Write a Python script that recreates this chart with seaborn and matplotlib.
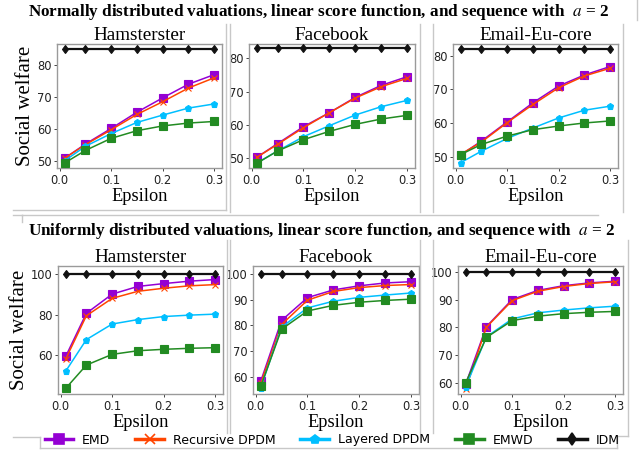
import numpy as np
import pandas as pd
import matplotlib
matplotlib.use("Agg")
import matplotlib.pyplot as plt
import seaborn as sns
from matplotlib.lines import Line2D

# ---------------- data ----------------
epsilon = [0.01, 0.05, 0.1, 0.15, 0.2, 0.25, 0.3]
methods = ["EMD", "Recursive DPDM", "Layered DPDM", "EMWD", "IDM"]
datasets = ["Hamsterster", "Facebook", "Email-Eu-core"]

# Normally distributed valuations
normal_ham_emd = [50.8, 55.2, 60.1, 65.2, 69.7, 74.0, 77.0]
normal_ham_rec = [50.8, 55.0, 59.7, 64.5, 68.5, 72.8, 76.0]
normal_ham_lay = [50.0, 54.5, 58.5, 62.0, 64.3, 66.5, 67.8]
normal_ham_emwd = [49.3, 53.2, 57.0, 59.4, 60.9, 61.8, 62.3]
normal_ham_idm = [85.0, 85.0, 85.0, 85.0, 85.0, 85.0, 85.0]

normal_fb_emd = [50.3, 54.4, 59.5, 63.7, 68.3, 71.9, 74.5]
normal_fb_rec = [50.3, 54.2, 59.2, 63.7, 68.1, 71.5, 74.0]
normal_fb_lay = [48.6, 52.2, 56.5, 59.8, 63.0, 65.5, 67.4]
normal_fb_emwd = [48.5, 52.2, 55.6, 58.1, 60.2, 61.8, 62.9]
normal_fb_idm = [83.0, 83.0, 83.0, 83.0, 83.0, 83.0, 83.0]

normal_em_emd = [50.5, 54.6, 60.3, 66.0, 71.0, 74.3, 76.8]
normal_em_rec = [50.7, 54.3, 60.1, 65.5, 70.5, 74.0, 76.3]
normal_em_lay = [48.2, 51.6, 55.4, 58.5, 61.5, 63.8, 65.0]
normal_em_emwd = [50.6, 53.6, 56.1, 58.0, 59.1, 60.0, 60.6]
normal_em_idm = [82.0, 82.0, 82.0, 82.0, 82.0, 82.0, 82.0]

# Uniformly distributed valuations
unif_ham_emd = [59.3, 80.6, 90.1, 93.9, 95.3, 96.5, 97.3]
unif_ham_rec = [58.0, 79.4, 88.0, 91.5, 93.0, 94.2, 94.8]
unif_ham_lay = [52.0, 67.6, 75.3, 77.5, 79.0, 79.7, 80.2]
unif_ham_emwd = [43.5, 55.0, 60.3, 62.1, 62.8, 63.3, 63.6]
unif_ham_idm = [100.0, 100.0, 100.0, 100.0, 100.0, 100.0, 100.0]

unif_fb_emd = [58.3, 81.9, 90.8, 93.8, 95.4, 96.5, 97.0]
unif_fb_rec = [57.5, 80.3, 89.8, 93.2, 94.7, 95.5, 95.9]
unif_fb_lay = [55.8, 79.3, 86.8, 89.4, 90.9, 91.8, 92.6]
unif_fb_emwd = [56.3, 78.5, 85.6, 87.8, 89.0, 89.7, 90.2]
unif_fb_idm = [100.0, 100.0, 100.0, 100.0, 100.0, 100.0, 100.0]

unif_em_emd = [59.5, 80.2, 90.0, 93.3, 95.0, 96.0, 96.6]
unif_em_rec = [57.8, 80.0, 89.6, 93.0, 94.7, 95.8, 96.4]
unif_em_lay = [58.5, 76.5, 83.0, 85.2, 86.2, 87.0, 87.6]
unif_em_emwd = [60.0, 76.3, 82.4, 84.0, 84.9, 85.4, 85.7]
unif_em_idm = [100.0, 100.0, 100.0, 100.0, 100.0, 100.0, 100.0]

group_titles = [
    r"Normally distributed valuations, linear score function, and sequence with  $a$ = 2",
    r"Uniformly distributed valuations, linear score function, and sequence with  $a$ = 2",
]
x_label = "Epsilon"
y_label = "Social welfare"
x_ticks = [0.0, 0.1, 0.2, 0.3]
y_ticks = [
    [[50, 60, 70, 80], [50, 60, 70, 80], [50, 60, 70, 80]],
    [[60, 80, 100], [60, 70, 80, 90, 100], [60, 70, 80, 90, 100]],
]

panels = [
    [
        [normal_ham_emd, normal_ham_rec, normal_ham_lay, normal_ham_emwd, normal_ham_idm],
        [normal_fb_emd, normal_fb_rec, normal_fb_lay, normal_fb_emwd, normal_fb_idm],
        [normal_em_emd, normal_em_rec, normal_em_lay, normal_em_emwd, normal_em_idm],
    ],
    [
        [unif_ham_emd, unif_ham_rec, unif_ham_lay, unif_ham_emwd, unif_ham_idm],
        [unif_fb_emd, unif_fb_rec, unif_fb_lay, unif_fb_emwd, unif_fb_idm],
        [unif_em_emd, unif_em_rec, unif_em_lay, unif_em_emwd, unif_em_idm],
    ],
]

# ---------------- styles ----------------
colors = ["#9400D3", "#FF4500", "#00BFFF", "#228B22", "#111111"]
markers = ["s", "x", "p", "s", "d"]
msizes = [5.5, 5, 4.5, 5.5, 4.5]

ylims = [
    [(47.7, 86.6), (47.1, 84.3), (46.6, 83.5)],
    [(40.7, 104.0), (53.3, 103.1), (55.9, 102.1)],
]

W, H = 643, 455
plt.rcParams["mathtext.fontset"] = "stix"
fig = plt.figure(figsize=(W / 100, H / 100), dpi=100)

serif = "Liberation Serif"

def px_axes(x0, y0, x1, y1):
    return fig.add_axes([x0 / W, 1 - y1 / H, (x1 - x0) / W, (y1 - y0) / H])

axes_px = [
    [(57, 44, 222, 168), (249, 44, 415, 168), (453, 44, 618, 168)],
    [(58, 266, 223, 394), (253, 266, 419, 394), (458, 266, 623, 394)],
]

for r in range(2):
    for c in range(3):
        ax = px_axes(*axes_px[r][c])
        for k, m in enumerate(methods):
            df = pd.DataFrame({"eps": epsilon, "val": panels[r][c][k]})
            sns.lineplot(data=df, x="eps", y="val", ax=ax, color=colors[k],
                         marker=markers[k], markersize=msizes[k],
                         linewidth=1.1 if k < 4 else 1.6,
                         markeredgecolor=colors[k], markeredgewidth=0.8,
                         zorder=3 + k)
        ax.set_xlim(-0.005, 0.315)
        ax.set_ylim(*ylims[r][c])
        ax.set_xticks(x_ticks)
        ax.set_xticklabels([f"{t:.1f}" for t in x_ticks])
        ax.set_yticks(y_ticks[r][c])
        ax.tick_params(labelsize=8.3, length=2.5, width=0.7, color="#444444",
                       pad=1.5, labelcolor="#222222")
        for s in ax.spines.values():
            s.set_color("#9a9a9a")
            s.set_linewidth(1.0)
        ax.set_title(datasets[c], fontfamily=serif, fontsize=13.8, pad=3)
        ax.set_xlabel(x_label, fontfamily=serif, fontsize=13.2, labelpad=1)
        if c == 0:
            ax.set_ylabel(y_label, fontfamily=serif, fontsize=15, labelpad=1)
        else:
            ax.set_ylabel("")

# group titles
fig.text(318 / W, 1 - 12 / H, group_titles[0], ha="center", va="center",
         fontfamily=serif, fontweight="bold", fontsize=12.3)
fig.text(322 / W, 1 - 231 / H, group_titles[1], ha="center", va="center",
         fontfamily=serif, fontweight="bold", fontsize=12.3)

# frame lines (light gray)
def seg(x0, y0, x1, y1):
    fig.add_artist(Line2D([x0 / W, x1 / W], [1 - y0 / H, 1 - y1 / H],
                          color="#c8c8c8", linewidth=1.0))

# top row frames
seg(13, 210, 226, 210)
seg(226, 24, 226, 210)
seg(230, 24, 230, 212)
seg(420, 24, 420, 212)
seg(433, 24, 433, 212)
seg(623, 24, 623, 212)
seg(637, 0, 637, 20)
# bottom group box top
seg(13, 215, 22, 215)
seg(22, 215, 22, 222)
seg(22, 215, 598, 215)
# bottom row frames
seg(227, 240, 227, 433)
seg(230, 240, 230, 433)
seg(420, 240, 420, 433)
seg(433, 240, 433, 433)
seg(628, 240, 628, 436)
seg(13, 437, 40, 437)
seg(617, 436, 628, 436)
# legend frame
seg(40, 437, 40, 448)
seg(40, 448, 617, 448)
seg(617, 436, 617, 448)

# legend
handles = [Line2D([0], [0], color=colors[k], marker=markers[k],
                  markersize=msizes[k] * 1.4, linewidth=2.5,
                  markeredgecolor=colors[k], markeredgewidth=1.2)
           for k in range(5)]
fig.legend(handles, methods, loc="center", ncol=5, frameon=False,
           bbox_to_anchor=(332 / W, 1 - 440 / H), fontsize=9,
           handlelength=2.3, columnspacing=2.0, handletextpad=0.7)

fig.savefig("out.png", dpi=100)
